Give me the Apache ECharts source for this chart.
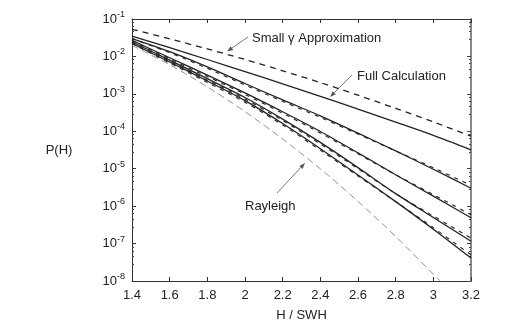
<!DOCTYPE html>
<html>
<head>
<meta charset="utf-8">
<script src="https://cdn.jsdelivr.net/npm/echarts@6/dist/echarts.min.js"></script>
<style>
html,body{margin:0;padding:0;background:#fff}
#chart{width:526px;height:335px}
</style>
</head>
<body>
<div id="chart"></div>
<script>
// H / SWH sample points
var hValues = [1.4, 1.6, 1.8, 2.0, 2.2, 2.4, 2.6, 2.8, 3.0, 3.2];

// small gamma approximation (upper dashed)
var smallGamma = [0.0531, 0.0294, 0.0159, 8.28e-3, 4.13e-3, 2.0e-3, 9.2e-4, 4.1e-4, 1.78e-4, 7.4e-5];
// full calculation (upper solid)
var fullCalc = [0.0351, 0.0171, 8.28e-3, 3.93e-3, 1.85e-3, 8.6e-4, 3.92e-4, 1.76e-4, 7.8e-5, 3.2e-5];

// the four lower solid / dashed pairs
var solidB = [0.0301, 0.0134, 5.25e-3, 1.89e-3, 6.9e-4, 2.58e-4, 8.9e-5, 2.99e-5, 9.7e-6, 3.0e-6];
var dashB  = [0.0301, 0.0126, 4.8e-3, 1.72e-3, 6.3e-4, 2.35e-4, 8.4e-5, 2.99e-5, 1.06e-5, 3.6e-6];
var solidC = [0.0267, 9.2e-3, 3.17e-3, 1.06e-3, 3.32e-4, 9.9e-5, 2.65e-5, 6.9e-6, 1.85e-6, 4.9e-7];
var dashC  = [0.0267, 8.6e-3, 2.89e-3, 9.7e-4, 3.03e-4, 9.0e-5, 2.49e-5, 6.9e-6, 2.03e-6, 5.9e-7];
var solidD = [0.0243, 7.98e-3, 2.54e-3, 8.0e-4, 2.12e-4, 5.05e-5, 1.07e-5, 2.16e-6, 4.97e-7, 1.15e-7];
var dashD  = [0.0243, 7.5e-3, 2.32e-3, 7.3e-4, 1.93e-4, 4.6e-5, 1.0e-5, 2.16e-6, 5.45e-7, 1.4e-7];
var solidE = [0.0221, 7.1e-3, 2.21e-3, 6.6e-4, 1.61e-4, 3.43e-5, 6.8e-6, 1.32e-6, 2.42e-7, 4.1e-8];
var dashE  = [0.0221, 6.7e-3, 2.02e-3, 6.0e-4, 1.47e-4, 3.13e-5, 6.4e-6, 1.32e-6, 2.65e-7, 5.0e-8];

// rayleigh (thin grey dashed), runs off the bottom just after 3
var rayleighH = [1.4, 1.6, 1.8, 2.0, 2.2, 2.4, 2.6, 2.8, 3.0, 3.05];
var rayleigh = [0.0198, 6.0e-3, 1.53e-3, 3.35e-4, 6.2e-5, 9.9e-6, 1.34e-6, 1.55e-7, 1.52e-8, 8.6e-9];

var font = 'Liberation Sans, Arial, Helvetica, sans-serif';

function pairs(xs, ys) {
    return ys.map(function (y, i) { return [xs[i], y]; });
}

function lineSeries(ys, xs, style) {
    return {
        type: 'line',
        data: pairs(xs || hValues, ys),
        showSymbol: false,
        smooth: 0.3,
        clip: true,
        silent: true,
        lineStyle: style
    };
}

var solid = { color: '#222', width: 1.3, type: 'solid' };
var shortDash = { color: '#222', width: 1.1, type: [4, 5] };

// arrow drawn as line plus small head
function arrow(x1, y1, x2, y2) {
    var a = Math.atan2(y2 - y1, x2 - x1), L = 6, W = 2.2;
    var bx = x2 - L * Math.cos(a), by = y2 - L * Math.sin(a);
    return {
        type: 'group',
        children: [
            { type: 'line', shape: { x1: x1, y1: y1, x2: bx, y2: by }, style: { stroke: '#555', lineWidth: 0.8 } },
            { type: 'polygon', shape: { points: [[x2, y2],
                [bx + W * Math.sin(a), by - W * Math.cos(a)],
                [bx - W * Math.sin(a), by + W * Math.cos(a)]] }, style: { fill: '#555' } }
        ]
    };
}

function label(text, x, y) {
    return { type: 'text', x: x, y: y, style: { text: text, font: '13px ' + font, fill: '#222', verticalAlign: 'middle' } };
}

var chart = echarts.init(document.getElementById('chart'));

var xCommon = {
    type: 'value', min: 1.4, max: 3.2, interval: 0.2,
    axisLine: { lineStyle: { color: '#333', width: 1 } },
    splitLine: { show: false }
};
var yCommon = {
    type: 'log', logBase: 10, min: 1e-8, max: 1e-1, interval: 1,
    axisLine: { lineStyle: { color: '#333', width: 1 } },
    splitLine: { show: false },
    minorTick: { show: true, splitNumber: 5, length: 2, lineStyle: { color: '#444' } }
};

chart.setOption({
    animation: false,
    backgroundColor: '#fff',
    grid: { left: 132, right: 55, top: 19, bottom: 54 },
    xAxis: [
        Object.assign({}, xCommon, {
            position: 'bottom',
            axisTick: { inside: true, length: 4, lineStyle: { color: '#333' } },
            axisLabel: {
                color: '#222', fontSize: 13, fontFamily: font, margin: 8,
                formatter: function (v) { return String(+v.toFixed(1)); }
            },
            name: 'H / SWH', nameLocation: 'middle', nameGap: 28,
            nameTextStyle: { color: '#222', fontSize: 13, fontFamily: font }
        }),
        Object.assign({}, xCommon, {
            position: 'top',
            axisTick: { inside: true, length: 4, lineStyle: { color: '#333' } },
            axisLabel: { show: false }
        })
    ],
    yAxis: [
        Object.assign({}, yCommon, {
            position: 'left',
            axisTick: { inside: true, length: 4, lineStyle: { color: '#333' } },
            axisLabel: {
                margin: 7,
                formatter: function (v) {
                    var e = Math.round(Math.log10(v));
                    return '{b|10}{s|' + e + '}';
                },
                rich: {
                    b: { fontSize: 13, fontFamily: font, color: '#222' },
                    s: { fontSize: 9, fontFamily: font, color: '#222', padding: [0, 0, 9, 0] }
                }
            }
        }),
        Object.assign({}, yCommon, {
            position: 'right',
            axisLine: { lineStyle: { color: '#888', width: 2 } },
            axisTick: { inside: true, length: 4, lineStyle: { color: '#444' } },
            axisLabel: { show: false }
        })
    ],
    series: [
        lineSeries(rayleigh, rayleighH, { color: '#777', width: 0.8, type: [7, 4] }),
        lineSeries(smallGamma, null, { color: '#222', width: 1.3, type: [6, 5] }),
        lineSeries(fullCalc, null, solid),
        lineSeries(solidB, null, solid),
        lineSeries(dashB, null, shortDash),
        lineSeries(solidC, null, solid),
        lineSeries(dashC, null, shortDash),
        lineSeries(solidD, null, solid),
        lineSeries(dashD, null, shortDash),
        lineSeries(solidE, null, solid),
        lineSeries(dashE, null, shortDash)
    ],
    graphic: [
        label('Small \u03b3 Approximation', 252, 38),
        arrow(248, 37, 227, 51.5),
        label('Full Calculation', 357, 76),
        arrow(352, 75, 330, 97),
        label('Rayleigh', 245, 206),
        arrow(277, 193, 305, 163),
        { type: 'text', x: 59, y: 150, style: { text: 'P(H)', font: '13px ' + font, fill: '#222', align: 'center', verticalAlign: 'middle' } }
    ]
});
</script>
</body>
</html>
